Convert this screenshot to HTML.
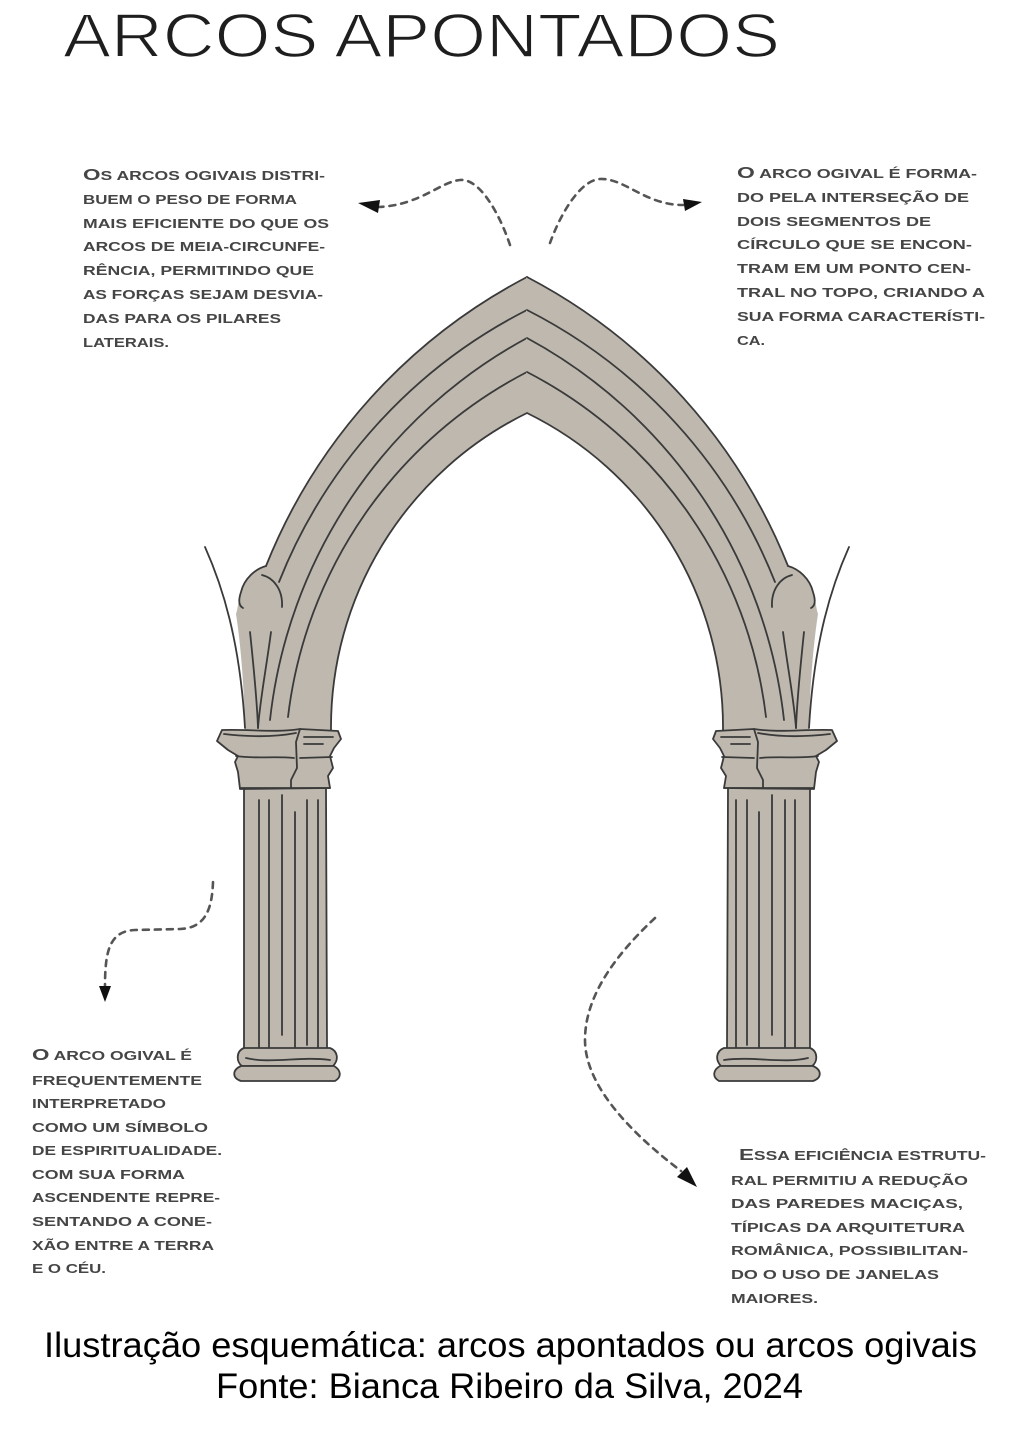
<!DOCTYPE html>
<html>
<head>
<meta charset="utf-8">
<style>
html,body{margin:0;padding:0;background:#fff;}
body{width:1024px;height:1430px;overflow:hidden;}
svg{display:block;}
.t{font-family:"Liberation Sans",sans-serif;font-weight:bold;font-size:12.5px;fill:#454545;}
.cap{font-size:16px;}
.title{font-family:"Liberation Sans",sans-serif;font-size:62px;fill:#1e1e1e;stroke:#fff;stroke-width:1.6;}
.capt{font-family:"Liberation Sans",sans-serif;font-size:35px;fill:#000;}
.ln{fill:none;stroke:#3a3a3a;stroke-width:1.8;stroke-linecap:round;stroke-linejoin:round;}
.lnf{fill:#beb8af;stroke:#3a3a3a;stroke-width:1.8;stroke-linecap:round;stroke-linejoin:round;}
.dash{fill:none;stroke:#555;stroke-width:2.6;stroke-dasharray:6 6;stroke-linecap:round;}
</style>
</head>
<body>
<svg width="1024" height="1430" viewBox="0 0 1024 1430" xmlns="http://www.w3.org/2000/svg">
<rect width="1024" height="1430" fill="#fff"/>

<!-- Title -->
<text class="title" x="63" y="57" textLength="717" lengthAdjust="spacingAndGlyphs">ARCOS APONTADOS</text>

<!-- Arch left half -->
<g id="half">
  <!-- arch fill -->
  <path fill="#beb8af" d="M528,277 A560 560 0 0 0 266,566 C255,569 244,579 241,592 C238,602 238,608 236,614 C240,640 244,680 245,730 L331,730 A350 350 0 0 1 528,413 Z"/>
  <!-- outer edge -->
  <path class="ln" d="M527,277 A560 560 0 0 0 266,566"/>
  <!-- bulge -->
  <path class="ln" d="M266,566 C255,569 244,579 241,592 C238,601 239,606 243,608"/>
  <path class="ln" d="M262,575 C274,578 283,590 282,607"/>
  <!-- flare -->
  <path class="ln" d="M205,547 C222,585 240,640 245,728"/>
  <!-- inner edge -->
  <path class="ln" d="M331,730 A350 350 0 0 1 527,413"/>
  <!-- inner concentric lines -->
  <path class="ln" d="M527,310 A520 520 0 0 0 279,582"/>
  <path class="ln" d="M527,338 A496 496 0 0 0 270,720"/>
  <path class="ln" d="M527,372 A447 447 0 0 0 288,717"/>
  <!-- V lines below bulge -->
  <path class="ln" d="M250,632 C254,670 257,700 258,728"/>
  <path class="ln" d="M271,632 C266,670 260,700 258,728"/>

  <!-- shaft -->
  <rect x="244" y="786" width="82" height="264" fill="#beb8af"/>
  <path class="ln" d="M244,788 L244,1049 M326,788 L327,1049"/>
  <path class="ln" d="M259,800 L259,1047 M269,800 L269,1047 M282,795 L282,1035 M295,812 L295,1047 M307,800 L307,1045 M318,800 L318,1047"/>

  <!-- capital -->
  <path class="lnf" d="M222,730 C250,729 275,733 300,729 L338,731 L341,739 L334,748 L330,756 L333,768 L328,776 L330,788 L240,789 L238,772 L235,762 L238,756 L228,750 L217,741 Z"/>
  <path class="ln" d="M224,734 C250,737 275,737 296,733"/>
  <path class="ln" d="M236,756 C255,759 272,756 294,758"/>
  <path class="ln" d="M300,758 L332,757"/>
  <path class="ln" d="M300,729 L296,742 L297,768 L291,780 L291,788"/>
  <path class="ln" d="M304,737 L333,737 M304,744 L323,744"/>
  <path class="ln" d="M240,788 L330,788"/>

  <!-- base -->
  <path class="lnf" d="M244,1048 C236,1051 236,1062 242,1066 L333,1066 C339,1060 338,1051 330,1048 Z"/>
  <path class="lnf" d="M241,1066 C232,1070 232,1078 241,1081 L335,1081 C342,1077 341,1070 334,1066 Z"/>
  <path class="ln" d="M246,1058 C270,1064 300,1056 330,1060"/>
</g>
<use href="#half" transform="matrix(-1 0 0 1 1054 0)"/>

<!-- Dashed arrows -->
<path class="dash" d="M510,245 C500,215 480,178 460,180 C440,182 420,205 379,207"/>
<polygon points="358,203 380,200 378,213" fill="#111"/>
<path class="dash" d="M550,243 C560,215 580,180 600,179 C625,178 645,205 683,205"/>
<polygon points="702,202 683,199 685,211" fill="#111"/>
<path class="dash" d="M213,882 C212,910 205,928 180,929 L135,930 C110,931 105,950 105,986"/>
<polygon points="105,1002 99,986 111,986" fill="#111"/>
<path class="dash" d="M655,918 C610,960 585,1000 585,1040 C585,1090 640,1140 681,1171"/>
<polygon points="697,1187 677,1177 687,1167" fill="#111"/>

<!-- Top-left text -->
<text class="t" x="83" y="180" textLength="242" lengthAdjust="spacingAndGlyphs"><tspan class="cap">O</tspan>S ARCOS OGIVAIS DISTRI-</text>
<text class="t" x="83" y="204" textLength="214" lengthAdjust="spacingAndGlyphs">BUEM O PESO DE FORMA</text>
<text class="t" x="83" y="228" textLength="246" lengthAdjust="spacingAndGlyphs">MAIS EFICIENTE DO QUE OS</text>
<text class="t" x="83" y="251" textLength="242" lengthAdjust="spacingAndGlyphs">ARCOS DE MEIA-CIRCUNFE-</text>
<text class="t" x="83" y="275" textLength="231" lengthAdjust="spacingAndGlyphs">RÊNCIA, PERMITINDO QUE</text>
<text class="t" x="83" y="299" textLength="240" lengthAdjust="spacingAndGlyphs">AS FORÇAS SEJAM DESVIA-</text>
<text class="t" x="83" y="323" textLength="198" lengthAdjust="spacingAndGlyphs">DAS PARA OS PILARES</text>
<text class="t" x="83" y="347" textLength="86" lengthAdjust="spacingAndGlyphs">LATERAIS.</text>

<!-- Top-right text -->
<text class="t" x="737" y="178" textLength="240" lengthAdjust="spacingAndGlyphs"><tspan class="cap">O</tspan> ARCO OGIVAL É FORMA-</text>
<text class="t" x="737" y="202" textLength="232" lengthAdjust="spacingAndGlyphs">DO PELA INTERSEÇÃO DE</text>
<text class="t" x="737" y="226" textLength="194" lengthAdjust="spacingAndGlyphs">DOIS SEGMENTOS DE</text>
<text class="t" x="737" y="249" textLength="235" lengthAdjust="spacingAndGlyphs">CÍRCULO QUE SE ENCON-</text>
<text class="t" x="737" y="273" textLength="234" lengthAdjust="spacingAndGlyphs">TRAM EM UM PONTO CEN-</text>
<text class="t" x="737" y="297" textLength="248" lengthAdjust="spacingAndGlyphs">TRAL NO TOPO, CRIANDO A</text>
<text class="t" x="737" y="321" textLength="248" lengthAdjust="spacingAndGlyphs">SUA FORMA CARACTERÍSTI-</text>
<text class="t" x="737" y="345" textLength="28" lengthAdjust="spacingAndGlyphs">CA.</text>

<!-- Bottom-left text -->
<text class="t" x="32" y="1060" textLength="160" lengthAdjust="spacingAndGlyphs"><tspan class="cap">O</tspan> ARCO OGIVAL É</text>
<text class="t" x="32" y="1085" textLength="170" lengthAdjust="spacingAndGlyphs">FREQUENTEMENTE</text>
<text class="t" x="32" y="1108" textLength="134" lengthAdjust="spacingAndGlyphs">INTERPRETADO</text>
<text class="t" x="32" y="1132" textLength="176" lengthAdjust="spacingAndGlyphs">COMO UM SÍMBOLO</text>
<text class="t" x="32" y="1155" textLength="190" lengthAdjust="spacingAndGlyphs">DE ESPIRITUALIDADE.</text>
<text class="t" x="32" y="1179" textLength="153" lengthAdjust="spacingAndGlyphs">COM SUA FORMA</text>
<text class="t" x="32" y="1202" textLength="188" lengthAdjust="spacingAndGlyphs">ASCENDENTE REPRE-</text>
<text class="t" x="32" y="1226" textLength="180" lengthAdjust="spacingAndGlyphs">SENTANDO A CONE-</text>
<text class="t" x="32" y="1250" textLength="182" lengthAdjust="spacingAndGlyphs">XÃO ENTRE A TERRA</text>
<text class="t" x="32" y="1273" textLength="74" lengthAdjust="spacingAndGlyphs">E O CÉU.</text>

<!-- Bottom-right text -->
<text class="t" x="739" y="1160" textLength="247" lengthAdjust="spacingAndGlyphs"><tspan class="cap">E</tspan>SSA EFICIÊNCIA ESTRUTU-</text>
<text class="t" x="731" y="1185" textLength="237" lengthAdjust="spacingAndGlyphs">RAL PERMITIU A REDUÇÃO</text>
<text class="t" x="731" y="1208" textLength="232" lengthAdjust="spacingAndGlyphs">DAS PAREDES MACIÇAS,</text>
<text class="t" x="731" y="1232" textLength="234" lengthAdjust="spacingAndGlyphs">TÍPICAS DA ARQUITETURA</text>
<text class="t" x="731" y="1255" textLength="237" lengthAdjust="spacingAndGlyphs">ROMÂNICA, POSSIBILITAN-</text>
<text class="t" x="731" y="1279" textLength="208" lengthAdjust="spacingAndGlyphs">DO O USO DE JANELAS</text>
<text class="t" x="731" y="1303" textLength="87" lengthAdjust="spacingAndGlyphs">MAIORES.</text>

<!-- Caption -->
<text class="capt" x="44" y="1357" textLength="933" lengthAdjust="spacingAndGlyphs">Ilustração esquemática: arcos apontados ou arcos ogivais</text>
<text class="capt" x="216" y="1398" textLength="587" lengthAdjust="spacingAndGlyphs">Fonte: Bianca Ribeiro da Silva, 2024</text>
</svg>
</body>
</html>
